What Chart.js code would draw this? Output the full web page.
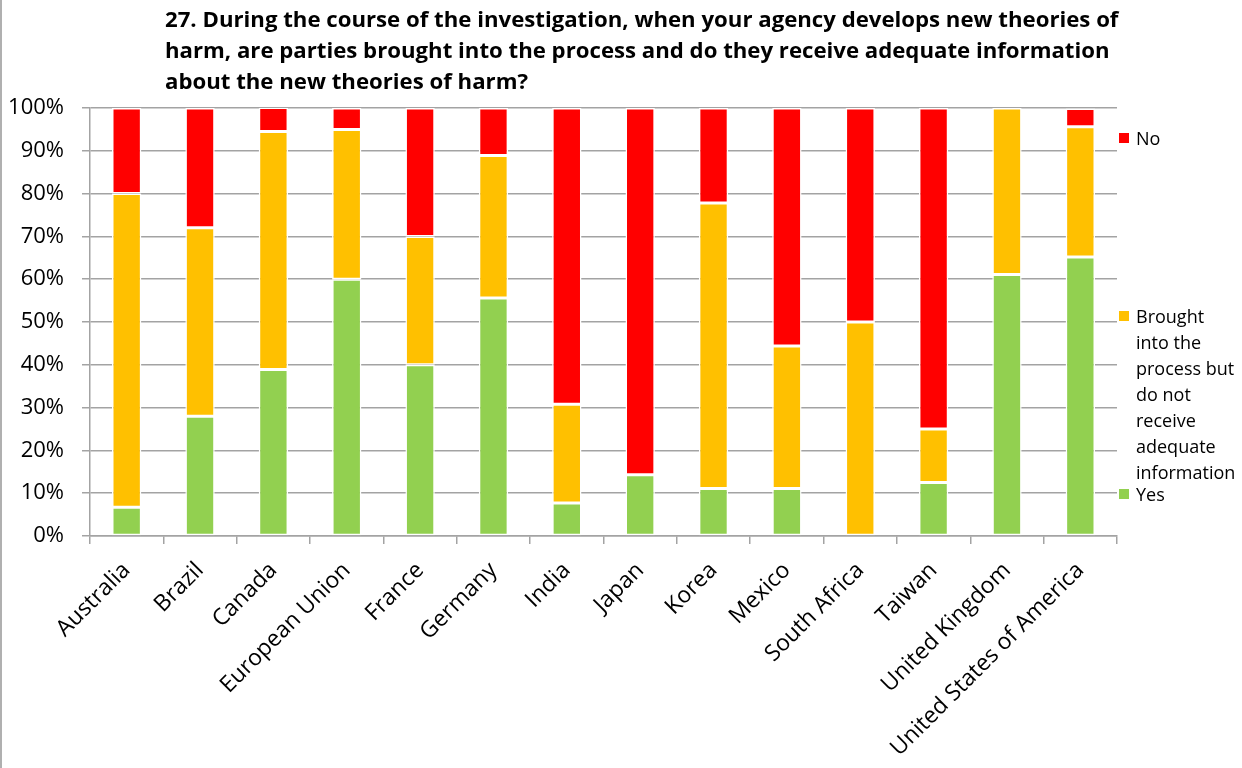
<!DOCTYPE html>
<html>
<head>
<meta charset="utf-8">
<script src="https://cdn.jsdelivr.net/npm/chart.js@4"></script>
<style>
  html, body { margin: 0; padding: 0; background: #fff; }
  #wrap { position: relative; width: 1242px; height: 768px; overflow: hidden; }
  #edge { position: absolute; left: 0; top: 0; width: 2px; height: 768px; background: #b0b0b0; }
  #title { position: absolute; left: 165px; top: 3px; font: bold 22.2px "Open Sans", sans-serif; line-height: 31px; color: #000; white-space: nowrap; }
  .leg { position: absolute; left: 1119px; font: 18px "Open Sans", sans-serif; line-height: 26px; color: #000; }
  .leg i { position: absolute; left: 0; top: 8px; width: 10px; height: 10px; }
  .leg span { display: block; margin-left: 17px; }
</style>
</head>
<body>
<div id="wrap">
  <canvas id="chart" width="1242" height="768"></canvas>
  <div id="edge"></div>
  <div id="title">27. During the course of the investigation, when your agency develops new theories of<br>harm, are parties brought into the process and do they receive adequate information<br>about the new theories of harm?</div>
  <div class="leg" style="top:125px"><i style="background:#FF0000"></i><span>No</span></div>
  <div class="leg" style="top:303px"><i style="background:#FFC000"></i><span>Brought<br>into the<br>process but<br>do not<br>receive<br>adequate<br>information</span></div>
  <div class="leg" style="top:481px"><i style="background:#92D050"></i><span>Yes</span></div>
</div>
<script>
const COUNTRIES = ['Australia', 'Brazil', 'Canada', 'European Union', 'France', 'Germany', 'India',
    'Japan', 'Korea', 'Mexico', 'South Africa', 'Taiwan', 'United Kingdom', 'United States of America'];

// percentages
const YES = [6.7, 28, 38.9, 60, 40, 55.6, 7.7, 14.3, 11.1, 11.1, 0, 12.5, 61.1, 65.2];
const BROUGHT = [73.3, 44, 55.6, 35, 30, 33.3, 23.1, 0, 66.7, 33.3, 50, 12.5, 38.9, 30.4];
const NO = [20, 28, 5.6, 5, 30, 11.1, 69.2, 85.7, 22.2, 55.6, 50, 75, 0, 4.3];

const GRID = '#a3a3a3';
const FONT = "'Open Sans', sans-serif";

const bar = (label, data, color) => ({
    label,
    data,
    backgroundColor: color,
    borderColor: '#ffffff',
    borderWidth: 1.5,
    borderSkipped: false,
    categoryPercentage: 1,
    barPercentage: 0.4,
});

new Chart(
    document.getElementById('chart'),
    {
        type: 'bar',
        data: {
            labels: COUNTRIES,
            datasets: [
                bar('Yes', YES, '#92D050'),
                bar('Brought into the process but do not receive adequate information', BROUGHT, '#FFC000'),
                bar('No', NO, '#FF0000'),
            ]
        },
        options: {
            responsive: false,
            animation: false,
            layout: { padding: { top: 108, right: 125, left: 0, bottom: 0 } },
            scales: {
                x: {
                    stacked: true,
                    grid: { offset: true, drawOnChartArea: false, drawTicks: true, tickLength: 8, color: GRID, lineWidth: 1.5 },
                    border: { color: GRID, width: 1.5 },
                    ticks: {
                        autoSkip: false,
                        maxRotation: 45,
                        minRotation: 45,
                        color: '#000',
                        font: { family: FONT, size: 22.8 },
                        padding: 13,
                    },
                    afterFit: s => { s.height = 232; },
                },
                y: {
                    stacked: true,
                    min: 0,
                    max: 100,
                    grid: { color: GRID, lineWidth: 1.5, tickLength: 8 },
                    border: { color: GRID, width: 1.5 },
                    ticks: {
                        stepSize: 10,
                        color: '#000',
                        padding: 18,
                        font: { family: FONT, size: 22 },
                        callback: v => v + '%',
                    },
                    afterFit: s => { s.width = 90; },
                },
            },
            plugins: {
                legend: { display: false },
                tooltip: { enabled: false },
            }
        }
    }
);
</script>
</body>
</html>
